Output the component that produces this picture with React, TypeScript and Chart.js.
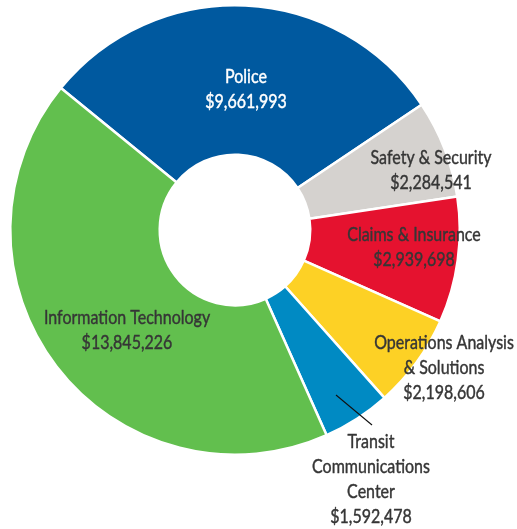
import React, { useEffect, useRef } from "react";
import { Chart, registerables } from "chart.js";

Chart.register(...registerables);

// Budget by department
const categories = [
  "Police",
  "Safety & Security",
  "Claims & Insurance",
  "Operations Analysis & Solutions",
  "Transit Communications Center",
  "Information Technology",
];
const budgets = [9661993, 2284541, 2939698, 2198606, 1592478, 13845226];
const sliceColors = ["#00599f", "#d5d2cf", "#e5122f", "#fdd125", "#008ac3", "#62bf4e"];

// Name lines shown above each amount
const labelLines = [
  ["Police"],
  ["Safety & Security"],
  ["Claims & Insurance"],
  ["Operations Analysis", "& Solutions"],
  ["Transit", "Communications", "Center"],
  ["Information Technology"],
];

// Label placement relative to the ring centre: x of the text centre, y of the first baseline
const labelAnchors = [
  [11, -147],
  [196, -66],
  [179, 10.5],
  [209, 118.5],
  [136, 218],
  [-108, 94],
];
const labelColors = ["#ffffff", "#363636", "#363636", "#363636", "#363636", "#363636"];
// Leader line for the narrow Transit slice
const leaderFrom = [101, 165];
const leaderTo = [137, 195];

const FONT = 'Lato, "Open Sans", sans-serif';
const FONT_PX = 20;
const SQUEEZE = 0.8; // condensed lettering
const LINE_H = 25;

const money = (v: number) => "$" + v.toLocaleString("en-US");

const labelPlugin = {
  id: "sliceLabels",
  afterDraw(chart: any) {
    const arc = chart.getDatasetMeta(0).data[0];
    if (!arc) return;
    const cx = arc.x;
    const cy = arc.y;
    const ctx = chart.ctx;
    ctx.save();
    ctx.strokeStyle = "#111111";
    ctx.lineWidth = 1.1;
    ctx.beginPath();
    ctx.moveTo(cx + leaderFrom[0], cy + leaderFrom[1]);
    ctx.lineTo(cx + leaderTo[0], cy + leaderTo[1]);
    ctx.stroke();

    ctx.font = `${FONT_PX}px ${FONT}`;
    ctx.textAlign = "center";
    ctx.textBaseline = "alphabetic";
    ctx.lineJoin = "round";
    budgets.forEach((v, i) => {
      const lines = [...labelLines[i], money(v)];
      const [dx, dy] = labelAnchors[i];
      ctx.fillStyle = labelColors[i];
      ctx.strokeStyle = labelColors[i];
      lines.forEach((t, j) => {
        ctx.save();
        ctx.translate(cx + dx, cy + dy + j * LINE_H);
        ctx.scale(SQUEEZE, 1);
        ctx.lineWidth = 0.45;
        ctx.fillText(t, 0, 0);
        ctx.strokeText(t, 0, 0);
        ctx.restore();
      });
    });
    ctx.restore();
  },
};

export default function App() {
  const ref = useRef<HTMLCanvasElement | null>(null);
  useEffect(() => {
    if (!ref.current) return;
    const chart = new Chart(ref.current, {
      type: "doughnut",
      data: {
        labels: categories,
        datasets: [
          {
            data: budgets,
            backgroundColor: sliceColors,
            borderColor: "#ffffff",
            borderWidth: 2.5,
          },
        ],
      },
      options: {
        responsive: false,
        animation: false,
        cutout: "33.5%",
        rotation: -50.8,
        layout: { padding: { left: 9, top: 4, right: 56, bottom: 73 } },
        plugins: {
          legend: { display: false },
          tooltip: { enabled: false },
        },
      },
      plugins: [labelPlugin],
    });
    return () => chart.destroy();
  }, []);

  return (
    <div style={{ position: "fixed", left: 0, top: 0, width: 517, height: 529, background: "#ffffff" }}>
      <canvas ref={ref} width={517} height={529} style={{ display: "block" }} />
    </div>
  );
}
